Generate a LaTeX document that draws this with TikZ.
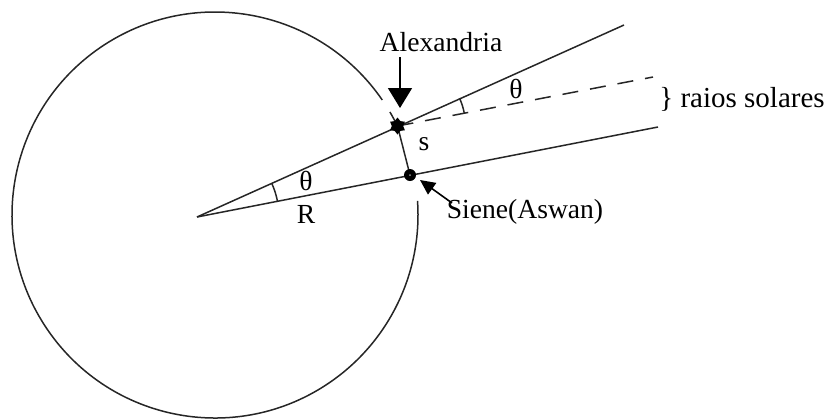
\documentclass[tikz,border=0pt]{standalone}
\usepackage{fontspec}
\setmainfont{Liberation Serif}
\usetikzlibrary{arrows.meta,shapes.geometric}
\begin{document}
\begin{tikzpicture}[x=0.5pt,y=0.5pt,
  ln/.style={line width=0.75pt, black!85},
  lbl/.style={font=\fontsize{13.8}{16}\selectfont, inner sep=0pt},
  ptr/.style={line width=0.8pt, -{Triangle[length=10pt,width=12pt]}},
  sptr/.style={line width=0.8pt, -{Triangle[length=7.5pt,width=7pt]}},
]
\useasboundingbox (0,0) rectangle (835,-419);
% key points
\coordinate (C) at (215,-215);
\coordinate (V) at (197,-217);
\coordinate (A) at (397.5,-126);
\coordinate (S) at (410,-175);
\coordinate (U) at (624,-25);
\coordinate (L) at (658,-127);
\coordinate (D) at (653,-77);
% Earth
\draw[ln] (C) ++(34.5:203) arc[start angle=34.5,end angle=364,radius=203];
\draw[ln] (C) ++(30.5:203) arc[start angle=30.5,end angle=26,radius=203];
% arc s between the cities
\draw[ln] (A) -- (S);
% radii / rays
\draw[ln] (V) -- (U);
\draw[ln] (V) -- (L);
\draw[ln, dash pattern=on 8pt off 6pt] (A) -- (D);
% angle marks
\draw[ln] (V) ++(11.05:82) arc[start angle=11.05,end angle=24.2,radius=82];
\draw[ln] (A) ++(10.9:68) arc[start angle=10.9,end angle=24.2,radius=68];
% city markers
\node[star, star points=6, fill=black, inner sep=0pt, minimum size=8.5pt] (Am) at (A) {};
\fill[black] (S) circle[radius=3pt];
\fill[black!40] (S) circle[radius=0.5pt];
% labels
\node[lbl] (alex) at (441,-42) {Alexandria};
\coordinate (alexTail) at (400,-57);
\coordinate (alexTip) at (400,-108);
\draw[ptr] (alexTail) -- (alexTip);
\node[lbl] (siene) at (525,-212) {Siene(Aswan)};
\coordinate (sieneTail) at (452,-203);
\coordinate (sieneTip) at (420,-180);
\draw[sptr] (sieneTail) -- (sieneTip);
\node[lbl] (slbl) at (424,-144) {s};
\node[lbl] (th1) at (306,-181) {θ};
\node[lbl] (R) at (306,-214) {R};
\node[lbl] (th2) at (516,-89) {θ};
\node[lbl, anchor=west, font=\fontsize{14.5}{17}\selectfont] (raios) at (659,-99) {\} raios solares};
\end{tikzpicture}
\end{document}
